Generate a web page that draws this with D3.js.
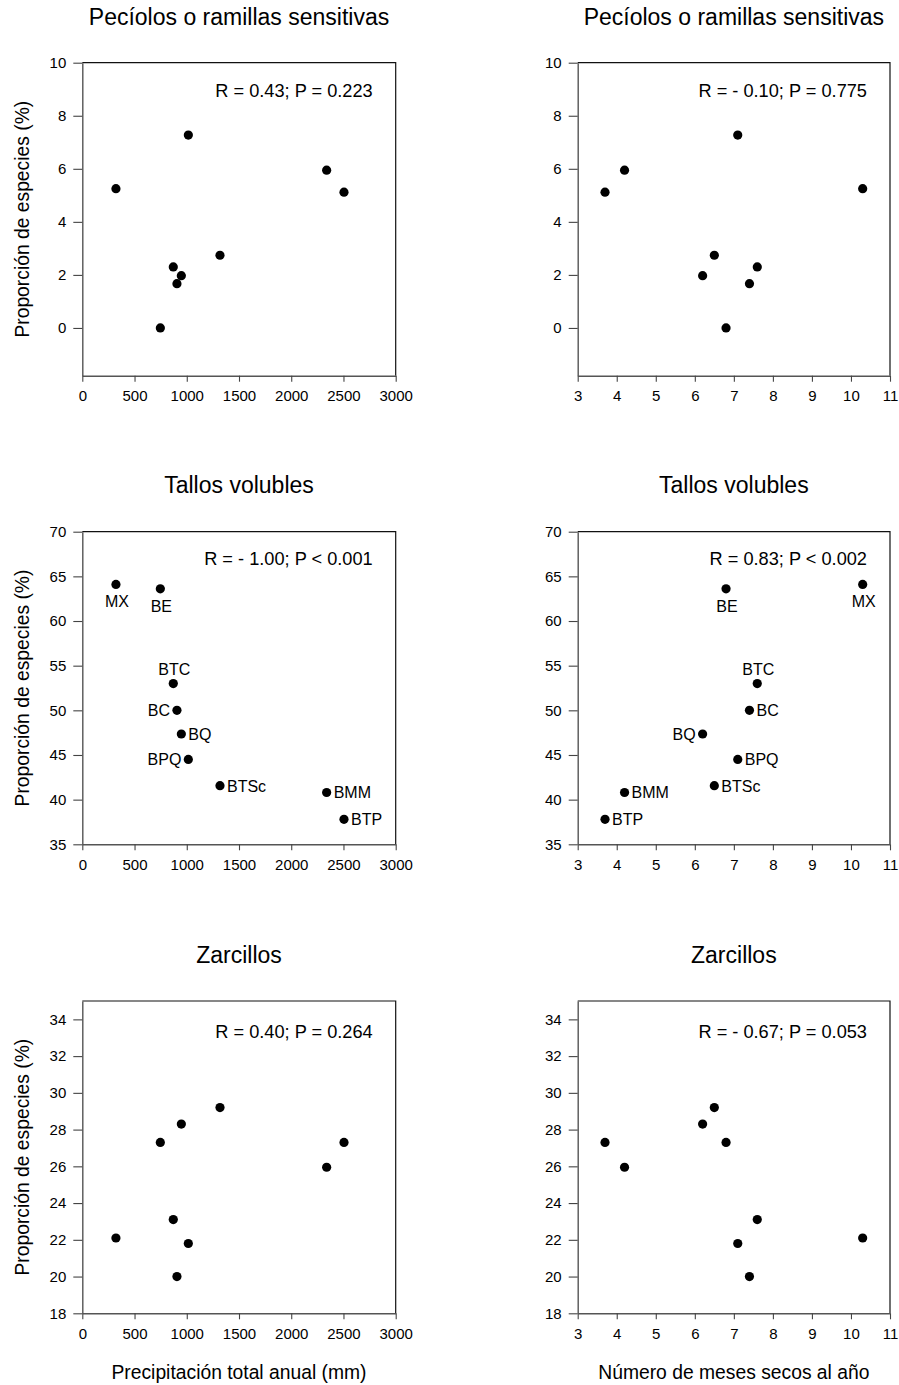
<!DOCTYPE html>
<html>
<head>
<meta charset="utf-8">
<script src="https://cdn.jsdelivr.net/npm/d3@7/dist/d3.min.js"></script>
<style>
  body { margin: 0; background: #fff; }
  text { font-family: Arial, "Liberation Sans", sans-serif; fill: #000; }
</style>
</head>
<body>
<div id="chart"></div>
<script>
// sites and their climate
var sites = ["MX", "BE", "BTC", "BC", "BQ", "BPQ", "BTSc", "BMM", "BTP"];
var precip = [322, 747, 871, 906, 948, 1015, 1318, 2339, 2505];
var dryMonths = [10.3, 6.8, 7.6, 7.4, 6.2, 7.1, 6.5, 4.2, 3.7];

// proportion of species (%) per climbing mechanism
var peciolos = [5.25, 0, 2.3, 1.67, 1.97, 7.27, 2.74, 5.95, 5.12];
var tallos = [64.1, 63.6, 53.0, 50.0, 47.35, 44.5, 41.56, 40.8, 37.8];
var zarcillos = [22.1, 27.3, 23.1, 20.0, 28.3, 21.8, 29.2, 25.95, 27.3];

var titles = ["Pecíolos o ramillas sensitivas", "Tallos volubles", "Zarcillos"];
var statsPrecip = ["R = 0.43; P = 0.223", "R = - 1.00; P < 0.001", "R = 0.40; P = 0.264"];
var statsDry = ["R = - 0.10; P = 0.775", "R = 0.83; P < 0.002", "R = - 0.67; P = 0.053"];

var precipTicks = [0, 500, 1000, 1500, 2000, 2500, 3000];
var dryTicks = [3, 4, 5, 6, 7, 8, 9, 10, 11];
var peciolosTicks = [0, 2, 4, 6, 8, 10];
var tallosTicks = [35, 40, 45, 50, 55, 60, 65, 70];
var zarcillosTicks = [18, 20, 22, 24, 26, 28, 30, 32, 34];

// where the site labels sit in the "Tallos volubles" panels
var labelSidePrecip = ["below", "below", "above", "left", "right", "left", "right", "right", "right"];
var labelSideDry = ["below", "below", "above", "right", "left", "right", "right", "right", "right"];

var W = 899, H = 1385;
var svg = d3.select("#chart").append("svg")
    .attr("width", W)
    .attr("height", H);

var cols = [{x0: 82.3, x1: 395.7}, {x0: 577.7, x1: 890}];
var rows = [
    {y0: 62.7, y1: 375.7, dom: [-1.8, 10], ticks: peciolosTicks, vals: peciolos, titleY: 25, statDy: 34},
    {y0: 531.7, y1: 844.3, dom: [35, 70], ticks: tallosTicks, vals: tallos, titleY: 493.3, statDy: 33.5},
    {y0: 1001, y1: 1313.3, dom: [18, 35], ticks: zarcillosTicks, vals: zarcillos, titleY: 963.3, statDy: 37}
];

function drawPanel(r, c) {
    var row = rows[r], col = cols[c];
    var xs = c === 0 ? precip : dryMonths;
    var x = d3.scaleLinear()
        .domain(c === 0 ? [0, 3000] : [3, 11])
        .range([col.x0, col.x1]);
    var y = d3.scaleLinear()
        .domain(row.dom)
        .range([row.y1, row.y0]);

    var g = svg.append("g");

    // frame top and right
    g.append("path")
        .attr("d", "M" + col.x0 + "," + row.y0 + "H" + col.x1 + "V" + row.y1)
        .attr("fill", "none")
        .attr("stroke", "#111")
        .attr("stroke-width", 1.2);

    var xAxis = d3.axisBottom(x)
        .tickValues(c === 0 ? precipTicks : dryTicks)
        .tickFormat(d3.format("d"))
        .tickSize(6)
        .tickPadding(9)
        .tickSizeOuter(0);
    var gx = g.append("g")
        .attr("transform", "translate(0," + row.y1 + ")")
        .call(xAxis);

    var yAxis = d3.axisLeft(y)
        .tickValues(row.ticks)
        .tickFormat(d3.format("d"))
        .tickSize(9)
        .tickPadding(7)
        .tickSizeOuter(0);
    var gy = g.append("g")
        .attr("transform", "translate(" + col.x0 + ",0)")
        .call(yAxis);

    [gx, gy].forEach(function(a) {
        a.select(".domain").attr("stroke", "#555").attr("stroke-width", 1.4);
        a.selectAll(".tick line").attr("stroke", "#444").attr("stroke-width", 1.1);
        a.selectAll(".tick text")
            .attr("font-size", "15px")
            .attr("font-family", "Arial, 'Liberation Sans', sans-serif")
            .attr("fill", "#000");
    });

    // title
    g.append("text")
        .attr("x", (col.x0 + col.x1) / 2)
        .attr("y", row.titleY)
        .attr("text-anchor", "middle")
        .attr("font-size", "23px")
        .text(titles[r]);

    // correlation text
    g.append("text")
        .attr("x", col.x1 - 23)
        .attr("y", row.y0 + row.statDy)
        .attr("text-anchor", "end")
        .attr("font-size", "18.2px")
        .text(c === 0 ? statsPrecip[r] : statsDry[r]);

    g.selectAll("circle")
        .data(row.vals)
        .enter()
        .append("circle")
        .attr("cx", function(d, i) { return x(xs[i]); })
        .attr("cy", function(d) { return y(d); })
        .attr("r", 4.6)
        .attr("fill", "#000");

    if (r === 1) {
        var sides = c === 0 ? labelSidePrecip : labelSideDry;
        g.selectAll(".lab")
            .data(row.vals)
            .enter()
            .append("text")
            .attr("class", "lab")
            .attr("font-size", "16px")
            .attr("text-anchor", function(d, i) {
                var s = sides[i];
                return s === "left" ? "end" : (s === "right" ? "start" : "middle");
            })
            .attr("x", function(d, i) {
                var s = sides[i];
                var px = x(xs[i]);
                if (s === "left") return px - 7;
                if (s === "right") return px + 7;
                return px + 1;
            })
            .attr("y", function(d, i) {
                var s = sides[i];
                var py = y(d);
                if (s === "below") return py + 23;
                if (s === "above") return py - 9;
                return py + 5.8;
            })
            .text(function(d, i) { return sites[i]; });
    }
}

for (var r = 0; r < 3; r++) {
    for (var c = 0; c < 2; c++) {
        drawPanel(r, c);
    }
}

// y axis titles
rows.forEach(function(row) {
    svg.append("text")
        .attr("transform", "translate(29," + ((row.y0 + row.y1) / 2) + ") rotate(-90)")
        .attr("text-anchor", "middle")
        .attr("font-size", "19.3px")
        .text("Proporción de especies (%)");
});

// x axis titles
svg.append("text")
    .attr("x", (cols[0].x0 + cols[0].x1) / 2)
    .attr("y", 1379)
    .attr("text-anchor", "middle")
    .attr("font-size", "19.3px")
    .text("Precipitación total anual (mm)");

svg.append("text")
    .attr("x", (cols[1].x0 + cols[1].x1) / 2)
    .attr("y", 1379)
    .attr("text-anchor", "middle")
    .attr("font-size", "19.3px")
    .text("Número de meses secos al año");
</script>
</body>
</html>
